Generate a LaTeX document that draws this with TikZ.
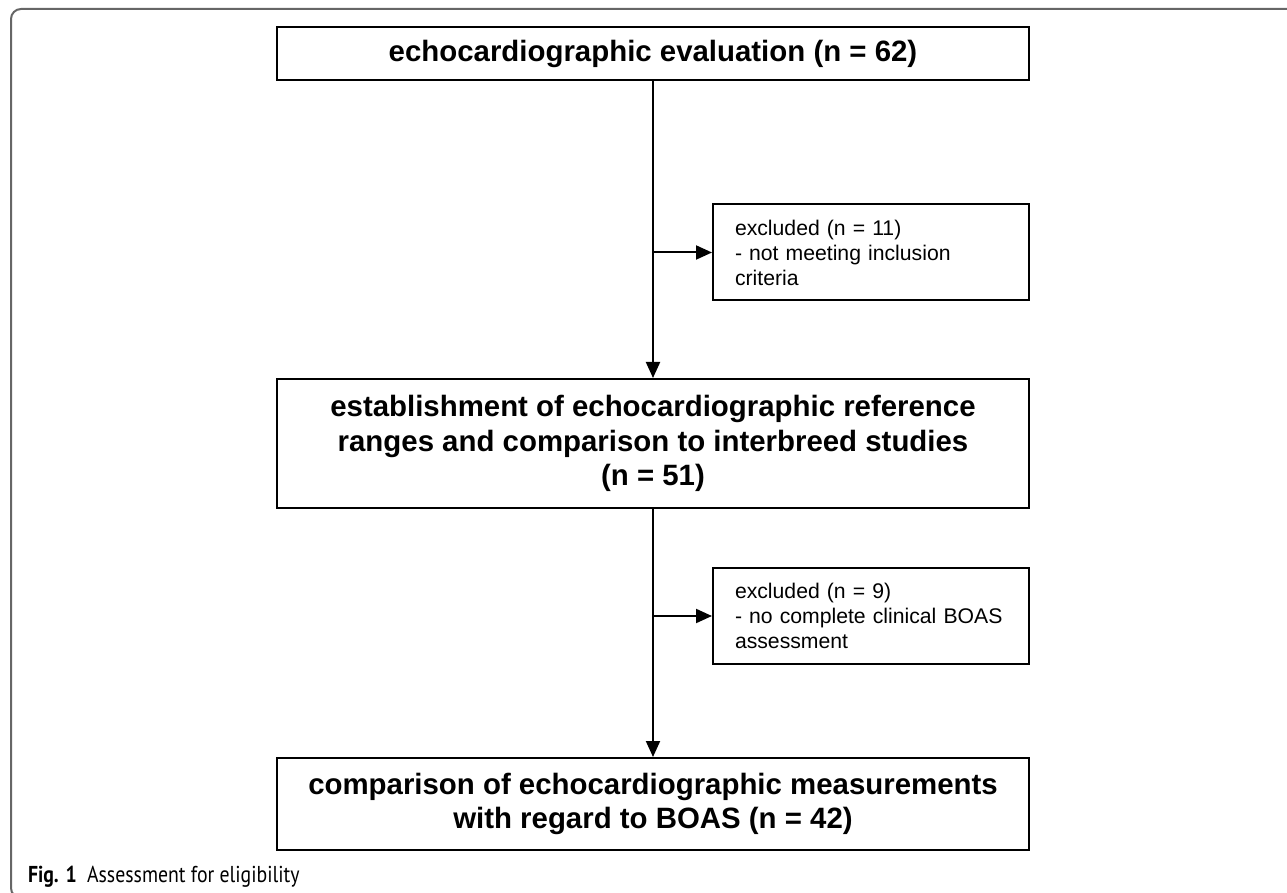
\documentclass[tikz,border=0pt]{standalone}
\usepackage{fontspec}
\setmainfont{Liberation Sans}
\newfontfamily\capfont[FakeStretch=0.86]{PT Sans}
\usetikzlibrary{arrows.meta}
\begin{document}
\begin{tikzpicture}[x=0.5pt,y=-0.5pt,
  line width=1pt,
  mainbox/.style={draw, rectangle, minimum width=376pt, align=center, inner sep=0pt,
    font=\bfseries\fontsize{14.7}{17.2}\selectfont},
  exbox/.style={draw, rectangle, minimum width=158pt, minimum height=48pt, align=left,
    text width=136pt, inner sep=0pt, font=\fontsize{10.6}{12.5}\selectfont},
  arr/.style={-{Triangle[length=8pt,width=7pt]}}
]
\useasboundingbox (0,0) rectangle (1287,893);
% outer frame
\draw[black!60, line width=1pt, rounded corners=5pt] (1295,9) -- (11,9) -- (11,898) -- (60,898);
\node[mainbox, minimum height=26.5pt] (b1) at (653,53.5) {echocardiographic evaluation (n = 62)};
\node[mainbox, minimum height=64.5pt] (b2) at (653,443.5) {establishment of echocardiographic reference\\ranges and comparison to interbreed studies\\(n = 51)};
\node[mainbox, minimum height=46pt] (b3) at (653,804) {comparison of echocardiographic measurements\\with regard to BOAS (n = 42)};
\node[exbox] (e1) at (871,252.5) {excluded (n = 11)\\- not meeting inclusion\\criteria};
\node[exbox] (e2) at (871,616) {excluded (n = 9)\\- no complete clinical BOAS\\assessment};
\draw[arr] (b1.south) -- (b2.north);
\draw[arr] (b2.south) -- (b3.north);
\draw[arr] (b1.south |- e1.west) -- (e1.west);
\draw[arr] (b2.south |- e2.west) -- (e2.west);
\node[anchor=base west, inner sep=0pt, font=\capfont\fontsize{11.5}{13}\selectfont] (cap) at (27,882) {\textbf{Fig. 1}\hspace{0.45em}Assessment for eligibility};
\end{tikzpicture}
\end{document}
